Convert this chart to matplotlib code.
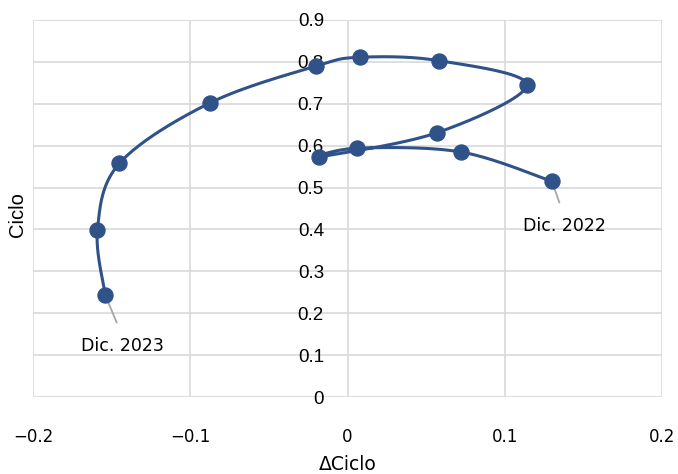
import numpy as np
import matplotlib
matplotlib.use("Agg")
import matplotlib.pyplot as plt

# Data: Dec 2022 -> Dec 2023
delta_ciclo = [0.130, 0.072, 0.006, -0.018, 0.057, 0.114, 0.058, 0.008, -0.020, -0.0875, -0.145, -0.159, -0.154]
ciclo = [0.515, 0.585, 0.594, 0.573, 0.631, 0.745, 0.803, 0.811, 0.790, 0.702, 0.558, 0.399, 0.243]
labels = {0: "Dic. 2022", 12: "Dic. 2023"}
xticks = [-0.2, -0.1, 0, 0.1, 0.2]
xtick_labels = ["\u22120.2", "\u22120.1", "0", "0.1", "0.2"]
yticks = [0, 0.1, 0.2, 0.3, 0.4, 0.5, 0.6, 0.7, 0.8, 0.9]
ytick_labels = ["0", "0.1", "0.2", "0.3", "0.4", "0.5", "0.6", "0.7", "0.8", "0.9"]

COLOR = "#2F5289"
GRID = "#D9D9D9"
FONT_X = "DejaVu Sans"
FONT_Y = "Liberation Sans"


def smooth(xs, ys, n=40, t=1/6):
    xs = np.asarray(xs, float)
    ys = np.asarray(ys, float)
    px = np.concatenate([[xs[0]], xs, [xs[-1]]])
    py = np.concatenate([[ys[0]], ys, [ys[-1]]])
    ox, oy = [], []
    for i in range(1, len(px) - 2):
        p0 = np.array([px[i], py[i]])
        p3 = np.array([px[i + 1], py[i + 1]])
        c1 = p0 + t * (p3 - np.array([px[i - 1], py[i - 1]]))
        c2 = p3 - t * (np.array([px[i + 2], py[i + 2]]) - p0)
        s = np.linspace(0, 1, n)[:, None]
        b = (1 - s) ** 3 * p0 + 3 * (1 - s) ** 2 * s * c1 + 3 * (1 - s) * s ** 2 * c2 + s ** 3 * p3
        ox.extend(b[:, 0]); oy.extend(b[:, 1])
    return ox, oy


fig = plt.figure(figsize=(6.78, 4.74), dpi=100)
ax = fig.add_axes([33 / 678, 1 - 397 / 474, (662 - 33) / 678, (397 - 20) / 474])

for s in ["top", "right", "bottom"]:
    ax.spines[s].set_visible(False)
ax.spines["left"].set_position(("data", 0))
ax.spines["left"].set_visible(False)

# smoothing in (approximately) pixel space
xr = 0.4 / 629.0
yr = 0.9 / 377.0
sx, sy = smooth(np.array(delta_ciclo) / xr, np.array(ciclo) / yr)
ax.plot(np.array(sx) * xr, np.array(sy) * yr, color=COLOR, lw=2.2, zorder=3, solid_capstyle="round")
ax.plot(delta_ciclo, ciclo, "o", color=COLOR, ms=10.8, zorder=4)

ax.set_xlim(-0.2, 0.2)
ax.set_ylim(0, 0.9)
ax.set_xticks(xticks)
ax.set_xticklabels(xtick_labels, fontfamily=FONT_X, fontsize=12)
ax.set_yticks(yticks)
ax.set_yticklabels(ytick_labels, fontfamily=FONT_Y, fontsize=13.5)
ax.grid(True, color=GRID, lw=1.2, zorder=0)
ax.set_axisbelow(True)
ax.tick_params(axis="both", length=0)
ax.tick_params(axis="y", pad=17)
ax.tick_params(axis="x", pad=22)

ax.set_xlabel("\u0394Ciclo", fontfamily=FONT_X, fontsize=13.5)
ax.xaxis.set_label_coords(0.5, -0.155)
fig.text(18 / 678, 1 - 215 / 474, "Ciclo", rotation=90, ha="center", va="center",
         fontfamily=FONT_Y, fontsize=14.5)

# annotations (posA = text side, posB = data point)
ax.annotate(labels[0], xy=(delta_ciclo[0], ciclo[0]), xytext=(0.138, 0.408),
            ha="center", va="center", fontfamily=FONT_X, fontsize=12.5,
            arrowprops=dict(arrowstyle="-", color="#A6A6A6", lw=1.3, shrinkA=9, shrinkB=0,
                            relpos=(0.5, 1.0)))
ax.annotate(labels[12], xy=(delta_ciclo[12], ciclo[12]), xytext=(-0.143, 0.122),
            ha="center", va="center", fontfamily=FONT_X, fontsize=12.5,
            arrowprops=dict(arrowstyle="-", color="#A6A6A6", lw=1.3, shrinkA=9, shrinkB=0,
                            relpos=(0.5, 1.0)))

fig.savefig("out.png", dpi=100)
